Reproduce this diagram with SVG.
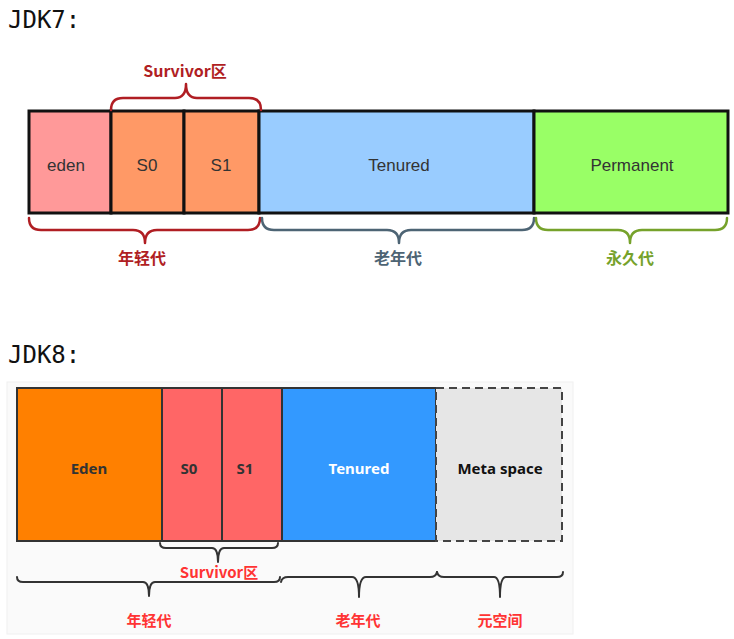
<svg xmlns="http://www.w3.org/2000/svg" width="734" height="639" viewBox="0 0 734 639">
<style>
.title{font-family:"DejaVu Sans Mono","Liberation Mono",monospace;font-size:24px;fill:#111}
.t7{font-family:"Liberation Sans",Arial,sans-serif;font-size:17px;fill:#333;text-anchor:middle}
.b7{fill:none;stroke-width:2.5;stroke-linecap:round;stroke-linejoin:round}
.l7{font-family:"Noto Sans CJK SC","Liberation Sans",sans-serif;font-size:16px;font-weight:bold;text-anchor:middle}
.box7{stroke:#111;stroke-width:3}
.box8{stroke:#333;stroke-width:2}
.t8{font-family:"Noto Sans","Noto Sans CJK SC",sans-serif;font-size:15px;font-weight:bold;text-anchor:middle}
.b8{fill:none;stroke:#333;stroke-width:2;stroke-linecap:round;stroke-linejoin:round}
.l8{font-family:"Noto Sans CJK SC","Noto Sans",sans-serif;font-size:15px;font-weight:bold;fill:#FF3333;text-anchor:middle}
</style>
<rect width="734" height="639" fill="#fff"/>
<text class="title" x="8" y="28">JDK7:</text>
<g id="jdk7">
  <g id="eden7"><rect class="box7" x="29" y="111" width="82" height="102" fill="#FF9999"/><text class="t7" x="66" y="171">eden</text></g>
  <g id="s0_7"><rect class="box7" x="111" y="111" width="73" height="102" fill="#FF9966"/><text class="t7" x="147" y="171">S0</text></g>
  <g id="s1_7"><rect class="box7" x="184" y="111" width="75" height="102" fill="#FF9966"/><text class="t7" x="221" y="171">S1</text></g>
  <g id="tenured7"><rect class="box7" x="259" y="111" width="275" height="102" fill="#99CCFF"/><text class="t7" x="399" y="171">Tenured</text></g>
  <g id="perm7"><rect class="box7" x="534" y="111" width="194" height="102" fill="#99FF66"/><text class="t7" x="632" y="171">Permanent</text></g>
</g>
<g id="braces7">
  <path class="b7" stroke="#B01E23" d="M111,110 Q111,98 123,98 L175,98 Q186,98 186,84 Q186,98 197,98 L249,98 Q261,98 261,110"/>
  <path class="b7" stroke="#B01E23" d="M29,218 Q29,230 41,230 L133,230 Q145,230 145,243 Q145,230 157,230 L248,230 Q260,230 260,218"/>
  <path class="b7" stroke="#4D6474" d="M262,218 Q262,230 274,230 L387,230 Q399,230 399,243 Q399,230 411,230 L522,230 Q534,230 534,218"/>
  <path class="b7" stroke="#76A22B" d="M536,218 Q536,230 548,230 L618,230 Q630,230 630,243 Q630,230 642,230 L715,230 Q727,230 727,218"/>
  <text class="l7" x="185" y="77" fill="#B01E23">Survivor区</text>
  <text class="l7" x="142" y="264" fill="#B01E23">年轻代</text>
  <text class="l7" x="398" y="264" fill="#4D6474">老年代</text>
  <text class="l7" x="630" y="264" fill="#76A22B">永久代</text>
</g>
<text class="title" x="8" y="363">JDK8:</text>
<rect x="7" y="382" width="566" height="252" fill="#FAFAFA" stroke="#F0F0F0"/>
<g id="jdk8">
  <g id="eden8"><rect class="box8" x="17" y="388" width="145" height="153" fill="#FF8000"/><text class="t8" x="89" y="474" fill="#333">Eden</text></g>
  <g id="s0_8"><rect class="box8" x="162" y="388" width="60" height="153" fill="#FF6666"/><text class="t8" x="189" y="474" fill="#333">S0</text></g>
  <g id="s1_8"><rect class="box8" x="222" y="388" width="60" height="153" fill="#FF6666"/><text class="t8" x="245" y="474" fill="#333">S1</text></g>
  <g id="tenured8"><rect class="box8" x="282" y="388" width="154" height="153" fill="#3399FF"/><text class="t8" x="359" y="474" fill="#fff">Tenured</text></g>
  <g id="meta8"><rect x="436" y="388" width="126" height="153" fill="#E6E6E6" stroke="#444" stroke-width="2" stroke-dasharray="8,5"/><text class="t8" x="500" y="474" fill="#111">Meta space</text></g>
</g>
<g id="braces8">
  <path class="b8" d="M160,543 Q160,548 166,548 L212,548 Q218,548 218,562 Q218,548 224,548 L272,548 Q278,548 278,543"/>
  <path class="b8" d="M17,577 Q17,582 23,582 L143,582 Q149,582 149,596 Q149,582 155,582 L274,582 Q280,582 280,577"/>
  <path class="b8" d="M281,582 Q282,577 288,577 L352,577 Q359,577 359,597 Q359,577 366,577 L430,577 Q436,577 437,572"/>
  <path class="b8" d="M437,572 Q438,577 444,577 L494,577 Q500,577 500,597 Q500,577 506,577 L557,577 Q563,577 563,572"/>
  <text class="l8" x="219" y="578">Survivor区</text>
  <text class="l8" x="149" y="626">年轻代</text>
  <text class="l8" x="358" y="626">老年代</text>
  <text class="l8" x="500" y="626">元空间</text>
</g>
</svg>
